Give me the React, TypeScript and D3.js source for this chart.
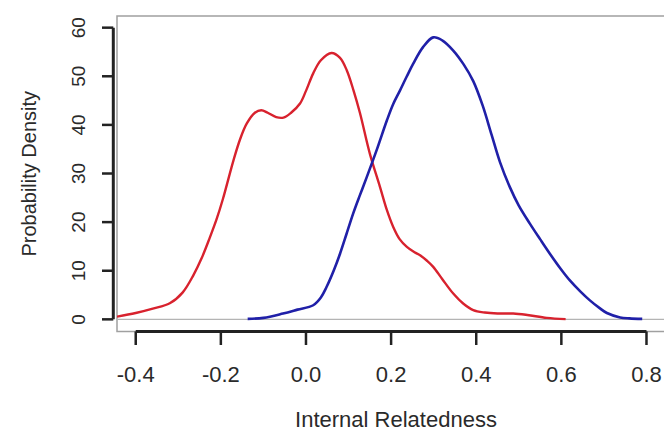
import React, { useEffect, useRef } from 'react';
import * as d3 from 'd3';

// density curves: [relatedness, density]
const redCurve: [number, number][] = [
  [-0.444, 0.55], [-0.4, 1.3], [-0.36, 2.2], [-0.32, 3.3], [-0.29, 5.5],
  [-0.265, 9.0], [-0.245, 12.6], [-0.226, 16.8], [-0.21, 20.6], [-0.195, 24.8],
  [-0.171, 32.5], [-0.155, 37], [-0.139, 40.3], [-0.12, 42.5], [-0.105, 43],
  [-0.09, 42.5], [-0.07, 41.6], [-0.053, 41.5], [-0.035, 42.5], [-0.014, 44.4],
  [0.0, 47], [0.017, 50.6], [0.035, 53.3], [0.06, 54.8], [0.08, 53.8],
  [0.096, 51.2], [0.112, 47], [0.127, 42.4], [0.15, 34.1], [0.174, 27.2],
  [0.19, 22.5], [0.205, 19], [0.22, 16.5], [0.237, 14.9], [0.255, 13.8],
  [0.268, 13.2], [0.285, 12], [0.299, 10.8], [0.32, 8.3], [0.346, 5.3],
  [0.37, 3.2], [0.393, 1.9], [0.42, 1.4], [0.45, 1.2], [0.487, 1.2],
  [0.52, 0.9], [0.566, 0.3], [0.61, 0.05]
];

const blueCurve: [number, number][] = [
  [-0.137, 0.1], [-0.1, 0.3], [-0.054, 1.2], [-0.02, 2.0], [0.017, 2.9],
  [0.035, 4.5], [0.048, 6.6], [0.065, 10], [0.08, 13.5], [0.095, 17.5],
  [0.111, 21.8], [0.127, 25.6], [0.143, 29.3], [0.166, 34.8], [0.19, 40.9],
  [0.205, 44.3], [0.221, 47.1], [0.237, 50], [0.252, 52.6], [0.275, 56],
  [0.299, 58], [0.32, 57.4], [0.346, 55.3], [0.37, 52.5], [0.393, 49],
  [0.415, 44], [0.436, 38], [0.456, 32.3], [0.479, 27.2], [0.5, 23.4],
  [0.526, 19.7], [0.55, 16.5], [0.573, 13.5], [0.6, 10.2], [0.62, 8],
  [0.645, 5.7], [0.667, 3.9], [0.69, 2.3], [0.707, 1.3], [0.738, 0.4],
  [0.76, 0.2], [0.79, 0.1]
];

const xTicks = [-0.4, -0.2, 0.0, 0.2, 0.4, 0.6, 0.8];
const yTicks = [0, 10, 20, 30, 40, 50, 60];

const width = 664;
const height = 432;
const font = '"Liberation Sans", Arial, sans-serif';

export default function App() {
  const svgRef = useRef<SVGSVGElement>(null);

  useEffect(() => {
    if (!svgRef.current) return;
    const svg = d3.select(svgRef.current);
    svg.selectAll('*').remove();

    // plot region (right edge falls outside the picture)
    const left = 117, right = 675, top = 16, bottom = 331.5;

    const x = d3.scaleLinear().domain([-0.444, 0.867]).range([left, right]);
    const y = d3.scaleLinear().domain([-2.5, 62.4]).range([bottom, top]);

    svg.append('defs').append('clipPath').attr('id', 'plotClip')
      .append('rect')
      .attr('x', left).attr('y', top)
      .attr('width', right - left).attr('height', bottom - top);

    // box
    svg.append('rect')
      .attr('x', left).attr('y', top)
      .attr('width', right - left).attr('height', bottom - top)
      .attr('fill', 'none')
      .attr('stroke', '#a0a0a0')
      .attr('stroke-width', 1.5);

    // zero line
    svg.append('line')
      .attr('x1', left).attr('x2', right)
      .attr('y1', y(0)).attr('y2', y(0))
      .attr('stroke', '#b4b4b4')
      .attr('stroke-width', 1.2);

    const line = d3.line<[number, number]>()
      .x(d => x(d[0]))
      .y(d => y(d[1]))
      .curve(d3.curveCatmullRom.alpha(0.5));

    const curves = svg.append('g').attr('clip-path', 'url(#plotClip)');
    curves.append('path')
      .datum(redCurve)
      .attr('d', line)
      .attr('fill', 'none')
      .attr('stroke', '#d8222e')
      .attr('stroke-width', 2.4);
    curves.append('path')
      .datum(blueCurve)
      .attr('d', line)
      .attr('fill', 'none')
      .attr('stroke', '#2020a8')
      .attr('stroke-width', 2.6);

    // x axis
    const xAxisY = 331.5;
    const xa = svg.append('g');
    xa.append('line')
      .attr('x1', x(xTicks[0])).attr('x2', x(xTicks[xTicks.length - 1]))
      .attr('y1', xAxisY).attr('y2', xAxisY)
      .attr('stroke', '#222').attr('stroke-width', 3);
    xa.selectAll('line.tick').data(xTicks).enter().append('line')
      .attr('class', 'tick')
      .attr('x1', d => x(d)).attr('x2', d => x(d))
      .attr('y1', xAxisY).attr('y2', 345)
      .attr('stroke', '#222').attr('stroke-width', 2.5);
    xa.selectAll('text').data(xTicks).enter().append('text')
      .attr('x', d => x(d))
      .attr('y', 382)
      .attr('text-anchor', 'middle')
      .attr('font-family', font)
      .attr('font-size', 22)
      .attr('fill', '#2a2a2a')
      .text(d => d.toFixed(1));

    // y axis
    const yAxisX = 113.3;
    const ya = svg.append('g');
    ya.append('line')
      .attr('x1', yAxisX).attr('x2', yAxisX)
      .attr('y1', y(yTicks[0])).attr('y2', y(yTicks[yTicks.length - 1]))
      .attr('stroke', '#222').attr('stroke-width', 3);
    ya.selectAll('line.tick').data(yTicks).enter().append('line')
      .attr('class', 'tick')
      .attr('x1', yAxisX).attr('x2', 102)
      .attr('y1', d => y(d)).attr('y2', d => y(d))
      .attr('stroke', '#222').attr('stroke-width', 2.5);
    ya.selectAll('text').data(yTicks).enter().append('text')
      .attr('transform', d => `translate(85, ${y(d)}) rotate(-90)`)
      .attr('text-anchor', 'middle')
      .attr('font-family', font)
      .attr('font-size', 19)
      .attr('fill', '#2a2a2a')
      .text(d => d);

    // axis titles
    svg.append('text')
      .attr('x', (left + right) / 2)
      .attr('y', 427)
      .attr('text-anchor', 'middle')
      .attr('font-family', font)
      .attr('font-size', 22)
      .attr('fill', '#2a2a2a')
      .text('Internal Relatedness');

    svg.append('text')
      .attr('transform', `translate(36, ${(top + bottom) / 2}) rotate(-90)`)
      .attr('text-anchor', 'middle')
      .attr('font-family', font)
      .attr('font-size', 20)
      .attr('fill', '#2a2a2a')
      .text('Probability Density');
  }, []);

  return (
    <svg
      ref={svgRef}
      width={width}
      height={height}
      style={{ position: 'absolute', left: 0, top: 0, background: '#fff' }}
    />
  );
}
